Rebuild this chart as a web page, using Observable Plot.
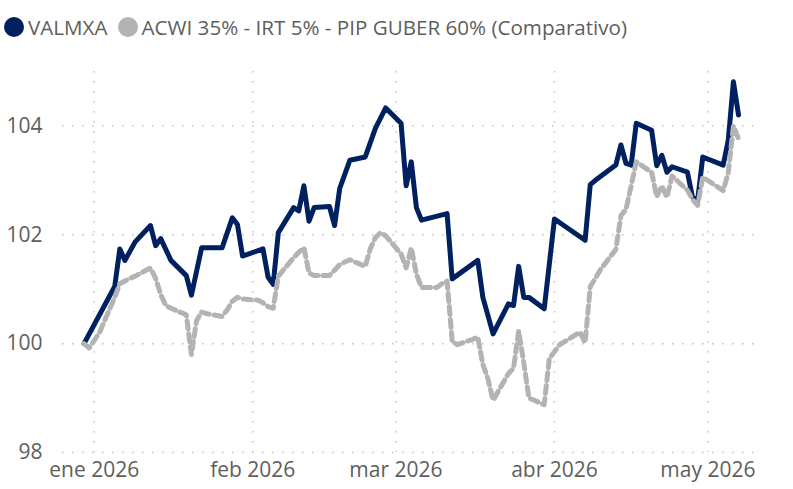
<!DOCTYPE html>
<html><head><meta charset="utf-8">
<script src="https://cdn.jsdelivr.net/npm/d3@7"></script>
<script src="https://cdn.jsdelivr.net/npm/@observablehq/plot@0.6"></script>
<style>
  body { margin: 0; background: #fff; font-family: "Open Sans", "Noto Sans", sans-serif; }
  #legend { height: 45px; display: flex; align-items: center; padding-left: 4px; box-sizing: border-box; padding-top: 8px;
            font-size: 20.6px; color: #605e5c; white-space: nowrap; }
  .item { display: flex; align-items: center; margin-right: 10px; }
  .dot { width: 20px; height: 20px; border-radius: 50%; margin-right: 4px; }
  #chart svg { display: block; }
</style>
</head><body>
<div id="legend"></div>
<div id="chart"></div>
<script>
const seriesNames = ["VALMXA", "ACWI 35% - IRT 5% - PIP GUBER 60% (Comparativo)"];
const seriesColors = ["#002060", "#b3b3b3"];

const valDates = ["2025-12-30","2026-01-05","2026-01-06","2026-01-07","2026-01-09","2026-01-12","2026-01-13","2026-01-14","2026-01-16","2026-01-19","2026-01-20","2026-01-22","2026-01-26","2026-01-28","2026-01-29","2026-01-30","2026-02-03","2026-02-04","2026-02-05","2026-02-06","2026-02-09","2026-02-10","2026-02-11","2026-02-12","2026-02-13","2026-02-16","2026-02-17","2026-02-18","2026-02-20","2026-02-23","2026-02-25","2026-02-27","2026-03-02","2026-03-03","2026-03-04","2026-03-05","2026-03-06","2026-03-11","2026-03-12","2026-03-17","2026-03-18","2026-03-20","2026-03-23","2026-03-24","2026-03-25","2026-03-26","2026-03-27","2026-03-30","2026-04-01","2026-04-07","2026-04-08","2026-04-09","2026-04-13","2026-04-14","2026-04-15","2026-04-16","2026-04-17","2026-04-20","2026-04-21","2026-04-22","2026-04-23","2026-04-24","2026-04-27","2026-04-28","2026-04-29","2026-04-30","2026-05-04","2026-05-05","2026-05-06","2026-05-07"];
const valValues = [100.0,101.05,101.74,101.53,101.87,102.17,101.8,101.93,101.53,101.25,100.89,101.76,101.76,102.31,102.19,101.61,101.74,101.22,101.09,102.04,102.5,102.44,102.9,102.25,102.5,102.52,102.17,102.85,103.37,103.43,103.96,104.33,104.05,102.9,103.34,102.5,102.27,102.39,101.19,101.53,100.85,100.18,100.73,100.7,101.42,100.85,100.85,100.64,102.29,101.9,102.92,103.0,103.28,103.65,103.31,103.28,104.05,103.92,103.27,103.46,103.15,103.25,103.15,102.69,102.63,103.43,103.28,103.74,104.81,104.2];

const cmpDates = ["2025-12-30","2025-12-31","2026-01-02","2026-01-05","2026-01-06","2026-01-07","2026-01-08","2026-01-09","2026-01-12","2026-01-13","2026-01-14","2026-01-15","2026-01-16","2026-01-19","2026-01-20","2026-01-21","2026-01-22","2026-01-23","2026-01-26","2026-01-27","2026-01-28","2026-01-29","2026-01-30","2026-02-02","2026-02-03","2026-02-04","2026-02-05","2026-02-06","2026-02-09","2026-02-10","2026-02-11","2026-02-12","2026-02-13","2026-02-16","2026-02-17","2026-02-18","2026-02-19","2026-02-20","2026-02-23","2026-02-24","2026-02-25","2026-02-26","2026-02-27","2026-03-02","2026-03-03","2026-03-04","2026-03-05","2026-03-06","2026-03-09","2026-03-10","2026-03-11","2026-03-12","2026-03-13","2026-03-16","2026-03-17","2026-03-18","2026-03-19","2026-03-20","2026-03-23","2026-03-24","2026-03-25","2026-03-26","2026-03-27","2026-03-30","2026-03-31","2026-04-01","2026-04-02","2026-04-06","2026-04-07","2026-04-08","2026-04-09","2026-04-10","2026-04-13","2026-04-14","2026-04-15","2026-04-16","2026-04-17","2026-04-20","2026-04-21","2026-04-22","2026-04-23","2026-04-24","2026-04-27","2026-04-28","2026-04-29","2026-04-30","2026-05-04","2026-05-05","2026-05-06","2026-05-07"];
const cmpValues = [100.0,99.92,100.2,100.85,101.1,101.15,101.2,101.24,101.39,101.2,100.9,100.7,100.65,100.53,99.8,100.42,100.58,100.55,100.5,100.62,100.78,100.85,100.82,100.8,100.75,100.68,100.65,101.24,101.58,101.68,101.76,101.3,101.25,101.25,101.35,101.45,101.5,101.54,101.42,101.75,101.95,102.04,101.98,101.65,101.39,101.76,101.28,101.03,101.03,101.1,101.15,100.05,99.98,100.08,100.12,99.62,99.35,98.96,99.45,99.55,100.23,99.65,99.0,98.88,99.73,99.85,99.98,100.21,100.02,101.05,101.2,101.36,101.73,102.35,102.47,102.9,103.34,103.15,102.7,102.9,102.69,103.08,102.82,102.65,102.54,103.06,102.81,103.15,104.0,103.76];

const monthTicks = ["2026-01-01","2026-02-01","2026-03-01","2026-04-01","2026-05-01"];
const monthNames = ["ene","feb","mar","abr","may","jun","jul","ago","sep","oct","nov","dic"];
const yTicks = [98, 100, 102, 104];

const val = valDates.map((d, i) => ({date: new Date(d), value: valValues[i]}));
const cmp = cmpDates.map((d, i) => ({date: new Date(d), value: cmpValues[i]}));
const ticks = monthTicks.map(d => new Date(d));

// legend
const legend = document.getElementById("legend");
seriesNames.forEach((n, i) => {
  const it = document.createElement("div"); it.className = "item";
  const dot = document.createElement("div"); dot.className = "dot"; dot.style.background = seriesColors[i];
  const t = document.createElement("span"); t.textContent = n;
  it.appendChild(dot); it.appendChild(t); legend.appendChild(it);
});

const chart = Plot.plot({
  width: 793,
  height: 444,
  marginLeft: 62,
  marginRight: 36,
  marginTop: 26,
  marginBottom: 37,
  style: {fontFamily: '"Open Sans", "Noto Sans", sans-serif', fontSize: "21px", color: "#605e5c", background: "#fff", overflow: "visible"},
  x: {type: "utc", domain: [new Date("2025-12-25T19:00:00Z"), new Date("2026-05-10T17:00:00Z")]},
  y: {domain: [98, 105]},
  marks: [
    Plot.gridY(yTicks, {stroke: "#c8c8c8", strokeOpacity: 1, strokeWidth: 1.6, strokeDasharray: "1.6,8.4"}),
    Plot.gridX(ticks, {stroke: "#c8c8c8", strokeOpacity: 1, strokeWidth: 1.6, strokeDasharray: "1.6,8.4"}),
    Plot.axisY(yTicks, {tickSize: 0, tickPadding: 20, fill: "#605e5c", fontSize: 21, label: null, tickFormat: d3.format("d")}),
    Plot.axisX(ticks, {tickSize: 0, tickPadding: 10, fill: "#605e5c", fontSize: 21, label: null,
      tickFormat: d => monthNames[d.getUTCMonth()] + " " + d.getUTCFullYear()}),
    Plot.lineY(val, {x: "date", y: "value", stroke: seriesColors[0], strokeWidth: 5, strokeLinejoin: "round"}),
    Plot.lineY(cmp, {x: "date", y: "value", stroke: seriesColors[1], strokeWidth: 5, strokeDasharray: "8,5", strokeLinejoin: "round"})
  ]
});
document.getElementById("chart").appendChild(chart);
</script>
</body></html>
